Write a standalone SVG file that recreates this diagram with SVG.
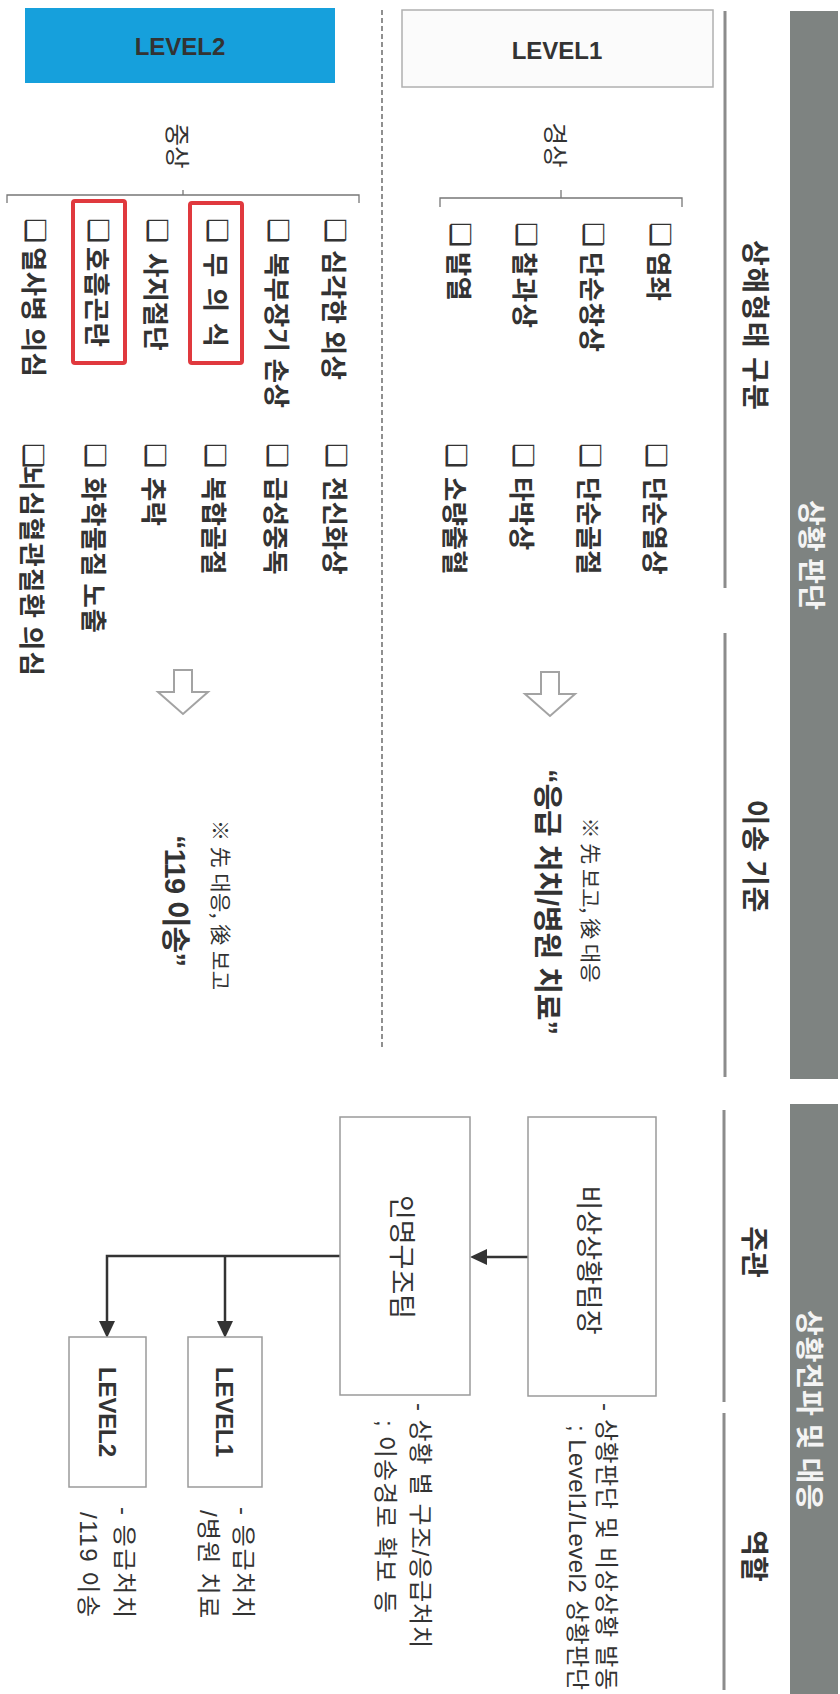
<svg xmlns="http://www.w3.org/2000/svg" width="840" height="1694" viewBox="0 0 840 1694">
<style>
.bg{fill:#ffffff}
.bar{fill:#7e8381}
.barT{font-family:'Noto Sans CJK KR',sans-serif;font-size:28px;font-weight:bold;fill:#f4f4f4;text-anchor:middle;dominant-baseline:central}
.sub{font-family:'Noto Sans CJK KR',sans-serif;font-size:28px;font-weight:bold;fill:#333;text-anchor:middle;dominant-baseline:central}
.col{stroke:#8c8c8c;stroke-width:3;fill:none}
.item{font-family:'Noto Sans CJK KR',sans-serif;font-size:26.5px;font-weight:bold;fill:#333;dominant-baseline:central}
.cb{font-family:'DejaVu Sans',sans-serif;font-size:28px;fill:#333;dominant-baseline:central}
.lbl{font-family:'Noto Sans CJK KR',sans-serif;font-size:24.5px;fill:#333;text-anchor:middle;dominant-baseline:central}
.brk{stroke:#777;stroke-width:1.3;fill:none}
.lv{font-family:'Liberation Sans','Noto Sans CJK KR',sans-serif;font-size:24px;font-weight:bold;fill:#333;text-anchor:middle;dominant-baseline:central}
.note{font-family:'Noto Sans CJK KR',sans-serif;font-size:21px;fill:#333;text-anchor:middle;dominant-baseline:central}
.big{font-family:'Liberation Sans','Noto Sans CJK KR',sans-serif;font-size:29px;font-weight:bold;fill:#333;text-anchor:middle;dominant-baseline:central}
.harrow{fill:#fff;stroke:#a3a3a3;stroke-width:2}
.box{fill:#fff;stroke:#9a9a9a;stroke-width:1.5}
.bt{font-family:'Noto Sans CJK KR',sans-serif;font-size:27px;fill:#333;text-anchor:middle;dominant-baseline:central}
.role{font-family:'Liberation Sans','Noto Sans CJK KR',sans-serif;font-size:24px;fill:#333;dominant-baseline:central}
.red{fill:none;stroke:#e0393e;stroke-width:4}
.conn{stroke:#333;stroke-width:2.5;fill:none}
</style>
<defs>
<marker id="ah" viewBox="0 0 10 10" refX="0" refY="5" markerUnits="userSpaceOnUse" markerWidth="17" markerHeight="16" orient="auto" preserveAspectRatio="none">
<path d="M0,0 L10,5 L0,10 z" fill="#333"/>
</marker>
</defs>
<rect class="bg" x="0" y="0" width="840" height="1694"/>

<g id="header-judgement">
<rect class="bar" x="790" y="11" width="48" height="1068"/>
<text class="barT" transform="translate(813,555) rotate(90)" textLength="110">상황 판단</text>
</g>
<g id="header-response">
<rect class="bar" x="790" y="1104" width="48" height="590"/>
<text class="barT" transform="translate(811,1410) rotate(90)" textLength="200">상황전파 및 대응</text>
</g>

<g id="subheaders">
<path class="col" d="M725,11 V588 M725,633 V1077 M724,1110 V1402 M724,1413 V1690"/>
<text class="sub" transform="translate(757,325) rotate(90)" textLength="170">상해형태 구분</text>
<text class="sub" transform="translate(757,856) rotate(90)" textLength="113">이송 기준</text>
<text class="sub" transform="translate(756,1252) rotate(90)">주관</text>
<text class="sub" transform="translate(756,1556) rotate(90)">역할</text>
</g>

<g id="divider">
<line x1="382" y1="10" x2="382" y2="1047" stroke="#555" stroke-width="1.3" stroke-dasharray="5,3"/>
</g>

<g id="level1-criteria">
<rect x="402" y="10" width="311" height="77" fill="#fbfbfb" stroke="#b0b0b0" stroke-width="1.5"/>
<text class="lv" x="557" y="50">LEVEL1</text>
<text class="lbl" transform="translate(556,145) rotate(90)">경상</text>
<path class="brk" d="M440,207 V198 H682 V207 M561,198 V190"/>
<text class="cb" transform="translate(660,222) rotate(90)">❑</text>
<text class="item" transform="translate(660,252) rotate(90)">염좌</text>
<text class="cb" transform="translate(593,222) rotate(90)">❑</text>
<text class="item" transform="translate(593,252) rotate(90)" textLength="100">단순창상</text>
<text class="cb" transform="translate(526,222) rotate(90)">❑</text>
<text class="item" transform="translate(526,252) rotate(90)" textLength="76">찰과상</text>
<text class="cb" transform="translate(460,222) rotate(90)">❑</text>
<text class="item" transform="translate(460,252) rotate(90)">발열</text>
<text class="cb" transform="translate(656,443) rotate(90)">❑</text>
<text class="item" transform="translate(656,477) rotate(90)">단순열상</text>
<text class="cb" transform="translate(590,443) rotate(90)">❑</text>
<text class="item" transform="translate(590,477) rotate(90)">단순골절</text>
<text class="cb" transform="translate(523,443) rotate(90)">❑</text>
<text class="item" transform="translate(523,477) rotate(90)">타박상</text>
<text class="cb" transform="translate(456,443) rotate(90)">❑</text>
<text class="item" transform="translate(456,477) rotate(90)">소량출혈</text>
<path class="harrow" d="M541,672 H559 V694 H575 L550,716 L525,694 H541 Z"/>
<text class="note" transform="translate(592,900) rotate(90)" textLength="165">※ 先 보고, 後 대응</text>
<text class="big" transform="translate(547,902) rotate(90)" textLength="266">“응급 처치/병원 치료”</text>
</g>

<g id="level2-criteria">
<rect x="25" y="8" width="310" height="75" fill="#16a0dc"/>
<text class="lv" x="180" y="46">LEVEL2</text>
<text class="lbl" transform="translate(178,146) rotate(90)">중상</text>
<path class="brk" d="M7,203 V195 H359 V203 M183,195 V190"/>
<text class="cb" transform="translate(335,218) rotate(90)">❑</text>
<text class="item" transform="translate(335,250) rotate(90)" textLength="130">심각한 외상</text>
<text class="cb" transform="translate(278,218) rotate(90)">❑</text>
<text class="item" transform="translate(278,253) rotate(90)" textLength="155">복부장기 손상</text>
<text class="cb" transform="translate(217,218) rotate(90)">❑</text>
<text class="item" transform="translate(217,253) rotate(90)" textLength="94">무의식</text>
<text class="cb" transform="translate(157,218) rotate(90)">❑</text>
<text class="item" transform="translate(157,253) rotate(90)">사지절단</text>
<text class="cb" transform="translate(98,218) rotate(90)">❑</text>
<text class="item" transform="translate(98,247) rotate(90)" textLength="100">호흡곤란</text>
<text class="cb" transform="translate(35,218) rotate(90)">❑</text>
<text class="item" transform="translate(35,247) rotate(90)" textLength="130">열사병 의심</text>
<text class="cb" transform="translate(336,443) rotate(90)">❑</text>
<text class="item" transform="translate(336,477) rotate(90)">전신화상</text>
<text class="cb" transform="translate(277,443) rotate(90)">❑</text>
<text class="item" transform="translate(277,477) rotate(90)">급성중독</text>
<text class="cb" transform="translate(215,443) rotate(90)">❑</text>
<text class="item" transform="translate(215,477) rotate(90)">복합골절</text>
<text class="cb" transform="translate(155,443) rotate(90)">❑</text>
<text class="item" transform="translate(155,477) rotate(90)">추락</text>
<text class="cb" transform="translate(95,443) rotate(90)">❑</text>
<text class="item" transform="translate(95,477) rotate(90)" textLength="156">화학물질 노출</text>
<text class="cb" transform="translate(33,443) rotate(90)">❑</text>
<text class="item" transform="translate(33,466) rotate(90)" textLength="210">뇌심혈관질환 의심</text>
<rect class="red" x="190" y="203" width="52" height="160" rx="2"/>
<rect class="red" x="73" y="201" width="52" height="162" rx="2"/>
<path class="harrow" d="M174,670 H192 V692 H208 L183,714 L158,692 H174 Z"/>
<text class="note" transform="translate(222,905) rotate(90)" textLength="170">※ 先 대응, 後 보고</text>
<text class="big" transform="translate(175,901) rotate(90)" textLength="132">“119 이송”</text>
</g>

<g id="connectors">
<path class="conn" d="M528,1257 H487" marker-end="url(#ah)"/>
<path class="conn" d="M340,1256 H107 V1321" marker-end="url(#ah)"/>
<path class="conn" d="M225,1256 V1321" marker-end="url(#ah)"/>
</g>

<g id="node-leader">
<rect class="box" x="528" y="1117" width="128" height="279"/>
<text class="bt" transform="translate(590,1260) rotate(90)">비상상황팀장</text>
<text class="role" transform="translate(606,1403) rotate(90)" textLength="287">- 상황판단 및 비상상황 발동</text>
<text class="role" transform="translate(577,1425) rotate(90)" textLength="265">; Level1/Level2 상황판단</text>
</g>
<g id="node-rescue">
<rect class="box" x="340" y="1117" width="130" height="278"/>
<text class="bt" transform="translate(403,1257) rotate(90)">인명구조팀</text>
<text class="role" transform="translate(420,1403) rotate(90)" textLength="245">- 상황 별 구조/응급처치</text>
<text class="role" transform="translate(385,1420) rotate(90)" textLength="193">; 이송경로 확보 등</text>
</g>
<g id="node-level1">
<rect class="box" x="188" y="1337" width="74" height="150"/>
<text class="lv" transform="translate(224,1412) rotate(90)" textLength="90">LEVEL1</text>
<text class="role" transform="translate(243,1507) rotate(90)" textLength="111">- 응급처치</text>
<text class="role" transform="translate(208,1510) rotate(90)" textLength="108">/병원 치료</text>
</g>
<g id="node-level2">
<rect class="box" x="69" y="1337" width="77" height="150"/>
<text class="lv" transform="translate(107,1412) rotate(90)" textLength="90">LEVEL2</text>
<text class="role" transform="translate(124,1507) rotate(90)" textLength="111">- 응급처치</text>
<text class="role" transform="translate(88,1512) rotate(90)" textLength="105">/119 이송</text>
</g>
</svg>
